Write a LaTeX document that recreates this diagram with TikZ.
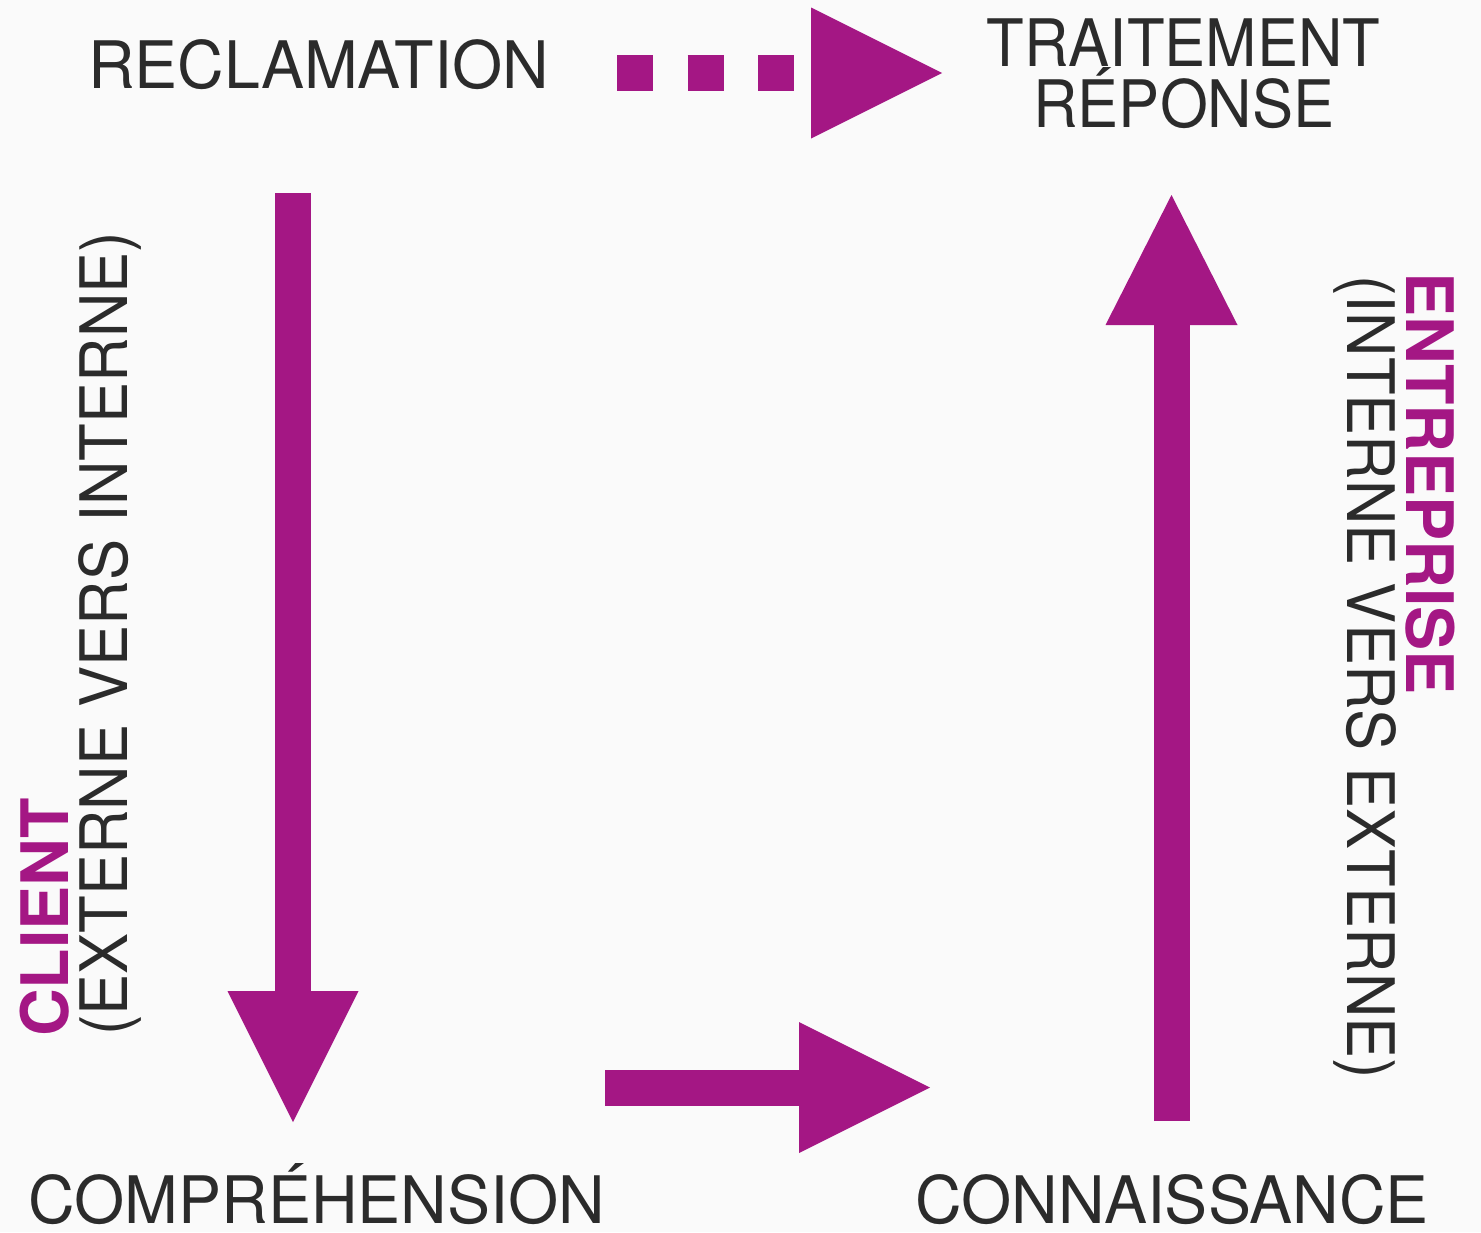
\documentclass[tikz,border=0pt]{standalone}
\usepackage{fontspec}
\setmainfont{TeX Gyre Heros}[FakeStretch=0.94]
\newfontfamily\policelarge{TeX Gyre Heros}[FakeStretch=0.985]
\newfontfamily\policegras{TeX Gyre Heros}[FakeStretch=1.01]
\usetikzlibrary{arrows.meta}
\definecolor{prune}{RGB}{164,23,132}
\definecolor{encre}{RGB}{43,43,43}
\definecolor{fond}{RGB}{250,250,250}

\begin{document}
\begin{tikzpicture}[x=1pt, y=-1pt,
    etiquette/.style={inner sep=0pt, text=encre, font=\fontsize{65.5}{70}\selectfont},
    etiquettelarge/.style={etiquette, font=\fontsize{65.5}{70}\selectfont\policelarge},
    gros/.style={inner sep=0pt, text=prune, font=\fontsize{65.5}{70}\selectfont\policegras\bfseries},
    fleche/.style={draw=prune, line width=36pt, -{Triangle[length=131pt, width=131pt, line width=0pt]}},
    pointille/.style={fleche, dash pattern=on 36pt off 34.5pt}]
    % fond
    \fill[fond] (0,0) rectangle (1481,1232);
    \useasboundingbox (0,0) rectangle (1481,1232);

    % les quatre etapes
    \node[etiquettelarge, anchor=base] (reclam) at (318.5,88) {RECLAMATION};
    \node[etiquette, anchor=base] (traitement) at (1183.5,66) {TRAITEMENT};
    \node[etiquette, anchor=base] (reponse) at (1184,127) {RÉPONSE};
    \node[etiquettelarge, anchor=base] (comp) at (317,1223) {COMPRÉHENSION};
    \node[etiquettelarge, anchor=base] (conn) at (1172,1223) {CONNAISSANCE};

    % textes verticaux
    \node[gros, rotate=90, anchor=base west] (client) at (68,1037) {CLIENT};
    \node[etiquette, rotate=90, anchor=base west] (clientsens) at (127,1036) {(EXTERNE VERS INTERNE)};
    \node[gros, rotate=-90, anchor=base west] (entreprise) at (1406,272) {ENTREPRISE};
    \node[etiquette, rotate=-90, anchor=base west] (entreprisesens) at (1347,275) {(INTERNE VERS EXTERNE)};

    % extremites des fleches
    \coordinate (pA) at (617,73);
    \coordinate (pB) at (942,73);
    \coordinate (gA) at (293,193);
    \coordinate (gB) at (293,1122);
    \coordinate (bA) at (605,1087.5);
    \coordinate (bB) at (930,1087.5);
    \coordinate (dA) at (1171.5,1121);
    \coordinate (dB) at (1171.5,195);

    \draw[pointille] (pA) -- (pB);
    \draw[fleche] (gA) -- (gB);
    \draw[fleche] (bA) -- (bB);
    \draw[fleche, -{Triangle[length=130pt, width=132pt, line width=0pt]}] (dA) -- (dB);
\end{tikzpicture}
\end{document}
